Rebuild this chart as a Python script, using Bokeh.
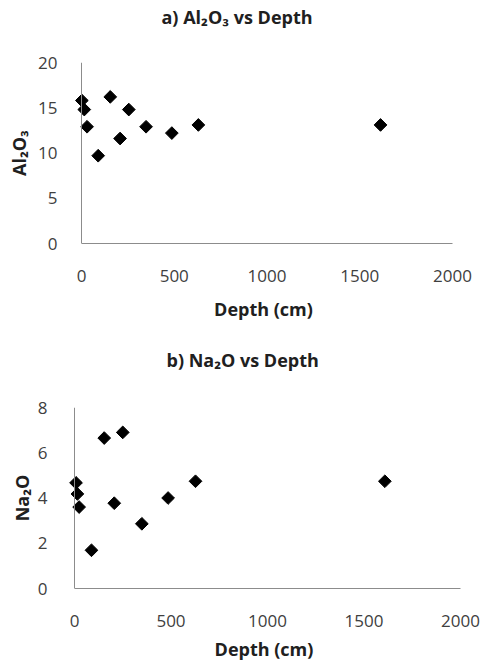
import math
from bokeh.plotting import figure
from bokeh.models import Range1d, FixedTicker, Title, Span
from bokeh.embed import file_html
from bokeh.resources import INLINE

# Data
depth_a = [2, 15, 30, 90, 155, 208, 255, 348, 487, 630, 1612]
al2o3 = [15.8, 14.8, 12.9, 9.7, 16.2, 11.6, 14.8, 12.9, 12.2, 13.1, 13.1]

depth_b = [8, 15, 24, 88, 154, 206, 250, 349, 485, 627, 1608]
na2o = [4.67, 4.18, 3.6, 1.69, 6.65, 3.77, 6.9, 2.86, 4.0, 4.74, 4.74]

x_ticks = [0, 500, 1000, 1500, 2000]
a_ticks = [0, 5, 10, 15, 20]
b_ticks = [0, 2, 4, 6, 8]

FONT = "Open Sans"
TXT = "#404040"
AXC = "#8c8c8c"
PAD = 7  # px of blank frame left of the y axis, so markers at x=0 are not clipped


def make(xs, ys, yticks, ymax, title, ylabel, width, height, bl, br, bt, bb,
         toff, gap, ylab_stand, ytick_stand, xtick_stand, xlab_stand):
    frame_w = width - bl - br
    x0 = -2000 * PAD / (frame_w - PAD)
    p = figure(width=width, height=height, output_backend="svg", toolbar_location=None,
               x_range=Range1d(x0, 2000), y_range=Range1d(0, ymax),
               min_border_left=bl, min_border_right=br, min_border_top=bt, min_border_bottom=bb)
    p.title = Title(text=title, align="left", text_font=FONT, text_font_size="18px",
                    text_font_style="bold", text_color="#202020", offset=toff, standoff=0)
    # invisible spacer between the title and the plot area
    p.add_layout(Title(text=" ", text_font_size="1px", standoff=gap), "above")
    p.outline_line_color = None
    p.grid.visible = False
    # vertical axis line at depth 0
    p.add_layout(Span(location=0, dimension="height", line_color=AXC, line_width=1))
    p.scatter(xs, ys, marker="square", size=9, angle=math.pi / 4, fill_color="black", line_color="black")
    for ax in (p.xaxis[0], p.yaxis[0]):
        ax.axis_line_color = AXC
        ax.axis_line_width = 1
        ax.major_tick_line_color = None
        ax.minor_tick_line_color = None
        ax.major_label_text_font = FONT
        ax.major_label_text_font_size = "17px"
        ax.major_label_text_color = TXT
        ax.axis_label_text_font = FONT
        ax.axis_label_text_font_size = "18px"
        ax.axis_label_text_font_style = "bold"
        ax.axis_label_text_color = "#202020"
    p.yaxis.axis_line_color = None
    p.xaxis.ticker = FixedTicker(ticks=x_ticks)
    p.xaxis.bounds = (0, 2000)
    p.yaxis.ticker = FixedTicker(ticks=yticks)
    p.xaxis.axis_label = "Depth (cm)"
    p.yaxis.axis_label = ylabel
    p.yaxis.axis_label_standoff = ylab_stand
    p.yaxis.major_label_standoff = ytick_stand
    p.xaxis.major_label_standoff = xtick_stand
    p.xaxis.axis_label_standoff = xlab_stand
    return p


p1 = make(depth_a, al2o3, a_ticks, 20, "a) Al\u2082O\u2083 vs Depth", "Al\u2082O\u2083",
          485, 330, 81 - PAD, 33, 62, 87, 80 + PAD, 31, 4, 18 - PAD, 20, 12)
p2 = make(depth_b, na2o, b_ticks, 8, "b) Na\u2082O vs Depth", "Na\u2082O",
          485, 333, 74 - PAD, 25, 77, 75, 92 + PAD, 33, 1, 21 - PAD, 20, 7)

open("out.html", "w").write(file_html([p1, p2], INLINE))
